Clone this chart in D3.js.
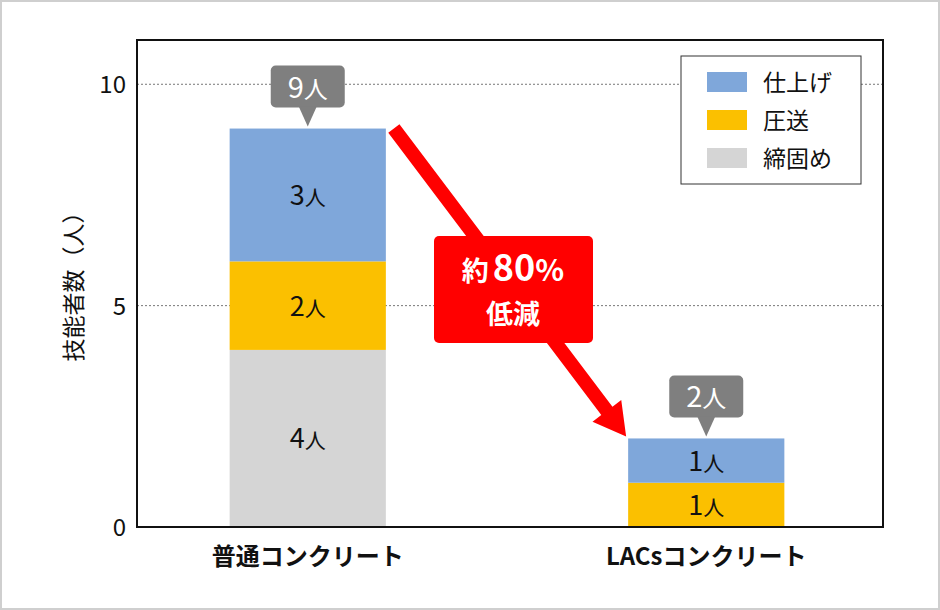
<!DOCTYPE html>
<html>
<head>
<meta charset="utf-8">
<script src="https://cdn.jsdelivr.net/npm/d3@7"></script>
<style>
  body { margin: 0; background: #fff; }
  svg { display: block; font-family: "Noto Sans CJK JP", "Noto Sans", sans-serif; }
</style>
</head>
<body>
<div id="chart"></div>
<script>
// Chart data
const categories = ["普通コンクリート", "LACsコンクリート"];
const seriesNames = ["締固め", "圧送", "仕上げ"];
const seriesColors = ["#d5d5d5", "#fbc000", "#7fa7da"];
const shimekatame = [4, 0];
const assou = [2, 1];
const shiage = [3, 1];
const totals = [9, 2];
const yTicks = [0, 5, 10];

const width = 940;
const height = 610;

const svg = d3.select("#chart")
    .append("svg")
    .attr("width", width)
    .attr("height", height);

// Outer frame of the image
svg.append("rect")
    .attr("x", 1).attr("y", 1)
    .attr("width", width - 2).attr("height", height - 2)
    .attr("fill", "#fff")
    .attr("stroke", "#cfcfcf")
    .attr("stroke-width", 2);

const plot = { left: 137, top: 40, right: 883, bottom: 527 };

const x = d3.scaleBand()
    .domain(categories)
    .range([plot.left - 3, plot.right - 3])
    .paddingInner(0.608)
    .paddingOuter(0.24);

const y = d3.scaleLinear()
    .domain([0, 11])
    .range([plot.bottom, plot.top]);

// Gridlines (dotted)
svg.append("g")
    .selectAll("line")
    .data(yTicks.filter(d => d > 0))
    .enter()
    .append("line")
    .attr("x1", plot.left)
    .attr("x2", plot.right)
    .attr("y1", d => y(d))
    .attr("y2", d => y(d))
    .attr("stroke", "#777")
    .attr("stroke-width", 1)
    .attr("stroke-dasharray", "2,2");

// Stack the series
const rows = categories.map((c, i) => ({
    cat: c,
    "締固め": shimekatame[i],
    "圧送": assou[i],
    "仕上げ": shiage[i]
}));
const stacked = d3.stack().keys(seriesNames)(rows);

const layer = svg.append("g")
    .selectAll("g")
    .data(stacked)
    .enter()
    .append("g")
    .attr("fill", (d, i) => seriesColors[i]);

layer.selectAll("rect")
    .data(d => d.filter(s => s[1] - s[0] > 0))
    .enter()
    .append("rect")
    .attr("x", d => x(d.data.cat))
    .attr("y", d => y(d[1]))
    .attr("width", x.bandwidth())
    .attr("height", d => y(d[0]) - y(d[1]));

// Segment labels like "3人"
layer.selectAll("text")
    .data(d => d.filter(s => s[1] - s[0] > 0))
    .enter()
    .append("text")
    .attr("x", d => x(d.data.cat) + x.bandwidth() / 2)
    .attr("y", d => (y(d[0]) + y(d[1])) / 2 + 10)
    .attr("text-anchor", "middle")
    .attr("fill", "#111")
    .attr("font-size", 27)
    .each(function (d) {
        const t = d3.select(this);
        t.append("tspan").text(d[1] - d[0]);
        t.append("tspan").attr("font-size", 21).text("人");
    });

// Plot frame
svg.append("rect")
    .attr("x", plot.left)
    .attr("y", plot.top)
    .attr("width", plot.right - plot.left)
    .attr("height", plot.bottom - plot.top)
    .attr("fill", "none")
    .attr("stroke", "#111")
    .attr("stroke-width", 2);

// Y axis tick labels
svg.append("g")
    .selectAll("text")
    .data(yTicks)
    .enter()
    .append("text")
    .attr("x", plot.left - 11)
    .attr("y", d => y(d) + 9)
    .attr("text-anchor", "end")
    .attr("font-size", 24)
    .attr("fill", "#111")
    .text(d => d);

// Y axis title
svg.append("text")
    .attr("transform", "translate(82," + 281 + ") rotate(-90)")
    .attr("text-anchor", "middle")
    .attr("font-size", 23)
    .attr("fill", "#111")
    .text("技能者数（人）");

// Category labels
svg.append("g")
    .selectAll("text")
    .data(categories)
    .enter()
    .append("text")
    .attr("x", d => x(d) + x.bandwidth() / 2)
    .attr("y", 565)
    .attr("text-anchor", "middle")
    .attr("font-size", 24)
    .attr("font-weight", "bold")
    .attr("fill", "#111")
    .text(d => d);

// Total callouts (gray bubbles above bars)
const callout = svg.append("g")
    .selectAll("g")
    .data(categories)
    .enter()
    .append("g")
    .attr("transform", (d, i) => "translate(" + (x(d) + x.bandwidth() / 2) + "," + y(totals[i]) + ")");

callout.append("rect")
    .attr("x", -37)
    .attr("y", -63)
    .attr("width", 74)
    .attr("height", 42)
    .attr("rx", 5)
    .attr("fill", "#7f7f7f");

callout.append("path")
    .attr("d", "M -9,-22 L 0,-2 L 9,-22 Z")
    .attr("fill", "#7f7f7f");

callout.append("text")
    .attr("y", -31)
    .attr("text-anchor", "middle")
    .attr("fill", "#fff")
    .attr("font-size", 29)
    .each(function (d, i) {
        const t = d3.select(this);
        t.append("tspan").text(totals[i]);
        t.append("tspan").attr("font-size", 24).text("人");
    });

// Red arrow from top of first bar to top of second bar
const x0 = x(categories[0]) + x.bandwidth() + 8;
const y0 = y(totals[0]);
const x1 = x(categories[1]) - 2;
const y1 = y(totals[1]) - 2;
const ang = Math.atan2(y1 - y0, x1 - x0);
const len = Math.hypot(x1 - x0, y1 - y0);
const shaft = 7, headW = 18, headL = 32;

svg.append("path")
    .attr("transform", "translate(" + x0 + "," + y0 + ") rotate(" + (ang * 180 / Math.PI) + ")")
    .attr("d", [
        "M", 0, -shaft,
        "L", len - headL, -shaft,
        "L", len - headL, -headW,
        "L", len, 0,
        "L", len - headL, headW,
        "L", len - headL, shaft,
        "L", 0, shaft, "Z"
    ].join(" "))
    .attr("fill", "#ff0000");

// Red reduction badge
svg.append("rect")
    .attr("x", 434)
    .attr("y", 236)
    .attr("width", 159)
    .attr("height", 107)
    .attr("rx", 5)
    .attr("fill", "#ff0000");

const badge = svg.append("text")
    .attr("x", 513)
    .attr("y", 281)
    .attr("text-anchor", "middle")
    .attr("fill", "#fff")
    .attr("font-weight", "bold");
badge.append("tspan").attr("font-size", 27).text("約");
badge.append("tspan").attr("font-size", 36).attr("dx", 4).text("80");
badge.append("tspan").attr("font-size", 30).text("%");

svg.append("text")
    .attr("x", 513)
    .attr("y", 324)
    .attr("text-anchor", "middle")
    .attr("fill", "#fff")
    .attr("font-weight", "bold")
    .attr("font-size", 27)
    .text("低減");

// Legend
const legend = svg.append("g").attr("transform", "translate(681,56)");
legend.append("rect")
    .attr("width", 180)
    .attr("height", 128)
    .attr("fill", "#fff")
    .attr("stroke", "#333")
    .attr("stroke-width", 1);

const legendOrder = [2, 1, 0];
const item = legend.selectAll("g")
    .data(legendOrder)
    .enter()
    .append("g")
    .attr("transform", (d, i) => "translate(26," + (16 + i * 38) + ")");

item.append("rect")
    .attr("width", 40)
    .attr("height", 20)
    .attr("fill", d => seriesColors[d]);

item.append("text")
    .attr("x", 56)
    .attr("y", 19)
    .attr("font-size", 23)
    .attr("fill", "#111")
    .text(d => seriesNames[d]);
</script>
</body>
</html>
